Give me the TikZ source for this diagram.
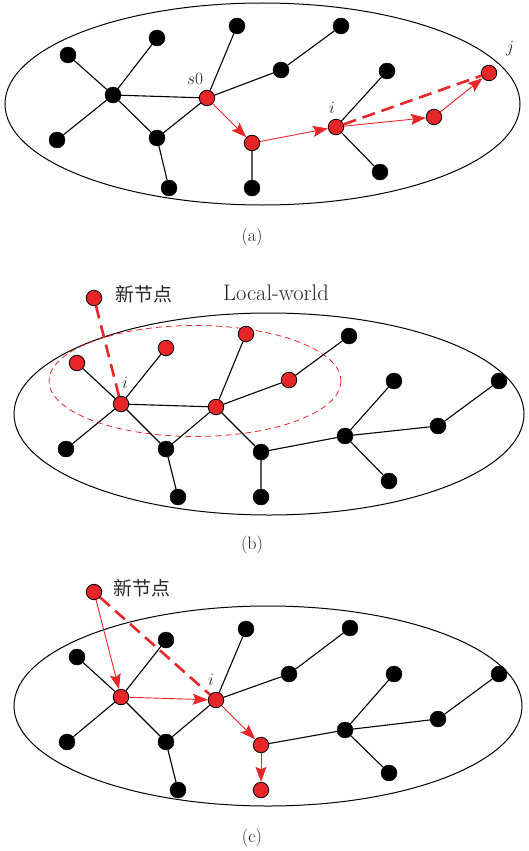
\documentclass[tikz,border=0pt]{standalone}
\usepackage{fontspec}
\newfontfamily\cjk{Noto Sans CJK SC}
\usetikzlibrary{arrows.meta}
\definecolor{nred}{HTML}{E8262A}
\begin{document}
\begin{tikzpicture}[x=1pt,y=-1pt,
 bn/.style={circle,fill=black,draw=black,minimum size=16pt,inner sep=0pt},
 rn/.style={circle,fill=nred,draw=black,line width=0.8pt,minimum size=15.5pt,inner sep=0pt},
 edge/.style={line width=1.1pt},
 rarr/.style={draw=nred,line width=0.9pt,-{Stealth[length=15pt,width=11pt,inset=2.5pt]}},
 rdash/.style={draw=nred,line width=2.6pt,dash pattern=on 13pt off 7pt},
 lab/.style={font=\fontsize{18}{21}\selectfont,text=black!85,inner sep=0pt},
 capt/.style={font=\fontsize{18}{21}\selectfont,text=black!85,inner sep=0pt},
 cjklab/.style={font=\cjk\fontsize{19}{21}\selectfont,text=black!85,inner sep=0pt},
 outer/.style={line width=1pt}
]
\useasboundingbox (0,0) rectangle (529,851);

% ---------------- (a) ----------------
\draw[outer] (262.5,104) ellipse [x radius=257.5, y radius=101];
\node[bn] (a1) at (68,55) {};
\node[bn] (a2) at (157,38) {};
\node[bn] (a3) at (113,95) {};
\node[bn] (a4) at (57,140) {};
\node[bn] (a5) at (157,138) {};
\node[bn] (a6) at (169,188) {};
\node[rn] (as0) at (207,98) {};
\node[bn] (a8) at (237,26) {};
\node[bn] (a9) at (281,70) {};
\node[bn] (a10) at (341,26) {};
\node[rn] (ar2) at (252,143) {};
\node[bn] (a12) at (252,188) {};
\node[rn] (ai) at (336,127) {};
\node[bn] (a14) at (387,71) {};
\node[bn] (a15) at (380,172) {};
\node[rn] (ar4) at (434,117) {};
\node[rn] (aj) at (489,73) {};
\draw[edge] (a1)--(a3) (a2)--(a3) (a4)--(a3) (a3)--(a5) (a3)--(as0) (a5)--(a6)
  (a5)--(as0) (as0)--(a8) (as0)--(a9) (a9)--(a10) (ar2)--(a12) (ai)--(a14) (ai)--(a15);
\draw[rarr] (as0)--(ar2);
\draw[rarr] (ar2)--(ai);
\draw[rarr] (ai)--(ar4);
\draw[rarr] (ar4)--(aj);
\draw[rdash] (ai)--(aj);
\node[lab] (ls0) at (195,79) {$s0$};
\node[lab] (lai) at (332,108) {$i$};
\node[lab] (laj) at (510,49) {$j$};
\node[capt] (capa) at (252,237) {(a)};

% ---------------- (b) ----------------
\draw[outer] (269,414) ellipse [x radius=255, y radius=101];
\draw[nred,line width=0.8pt,dash pattern=on 6pt off 4pt] (195,381) ellipse [x radius=146, y radius=55.5];
\node[rn] (bnew) at (94,298) {};
\node[cjklab,anchor=west] (bnewl) at (115,294) {新节点};
\node[font=\fontsize{22.5}{25}\selectfont,text=black!85,inner sep=0pt] (blw) at (276,293) {Local-world};
\node[rn] (b1) at (77,363) {};
\node[rn] (b2) at (166,348) {};
\node[rn] (b3) at (246,334) {};
\node[bn] (b4) at (349,336) {};
\node[rn] (b5) at (289,380) {};
\node[rn] (bi) at (121,404) {};
\node[rn] (b7) at (216,407) {};
\node[bn] (b8) at (66,449) {};
\node[bn] (b9) at (166,449) {};
\node[bn] (b10) at (178,497) {};
\node[bn] (b11) at (261,452) {};
\node[bn] (b12) at (261,497) {};
\node[bn] (b13) at (345,436) {};
\node[bn] (b14) at (394,381) {};
\node[bn] (b15) at (389,481) {};
\node[bn] (b16) at (438,426) {};
\node[bn] (b17) at (499,381) {};
\draw[edge] (b1)--(bi) (b2)--(bi) (b8)--(bi) (bi)--(b9) (bi)--(b7) (b7)--(b3) (b7)--(b5)
  (b5)--(b4) (b7)--(b9) (b9)--(b10) (b7)--(b11) (b11)--(b12) (b11)--(b13) (b13)--(b14)
  (b13)--(b15) (b13)--(b16) (b16)--(b17);
\draw[rdash] (bnew)--(bi);
\node[lab] (lbi) at (125,383) {$i$};
\node[capt] (capb) at (252,545) {(b)};

% ---------------- (c) ----------------
\draw[outer] (268,706) ellipse [x radius=254, y radius=100];
\node[rn] (cnew) at (94,592) {};
\node[cjklab,anchor=west] (cnewl) at (113,588) {新节点};
\node[bn] (c1) at (77,657) {};
\node[bn] (c2) at (166,640) {};
\node[bn] (c3) at (246,629) {};
\node[bn] (c4) at (350,628) {};
\node[bn] (c5) at (289,674) {};
\node[rn] (cA) at (121,697) {};
\node[rn] (ci) at (216,700) {};
\node[bn] (c8) at (67,742) {};
\node[bn] (c9) at (166,742) {};
\node[bn] (c10) at (178,790) {};
\node[rn] (c11) at (261,745) {};
\node[rn] (c12) at (261,790) {};
\node[bn] (c13) at (345,730) {};
\node[bn] (c14) at (394,674) {};
\node[bn] (c15) at (389,773) {};
\node[bn] (c16) at (438,719) {};
\node[bn] (c17) at (499,674) {};
\draw[edge] (c1)--(cA) (c2)--(cA) (cA)--(c8) (cA)--(c9) (ci)--(c3) (ci)--(c5) (c5)--(c4)
  (ci)--(c9) (c9)--(c10) (c11)--(c13) (c13)--(c14) (c13)--(c15) (c13)--(c16) (c16)--(c17);
\draw[rarr] (cnew)--(cA);
\draw[rarr] (cA)--(ci);
\draw[rarr] (ci)--(c11);
\draw[rarr] (c11)--(c12);
\draw[rdash] (cnew)--(ci);
\node[lab] (lci) at (211,680) {$i$};
\node[capt] (capc) at (252,838) {(c)};
\end{tikzpicture}
\end{document}
